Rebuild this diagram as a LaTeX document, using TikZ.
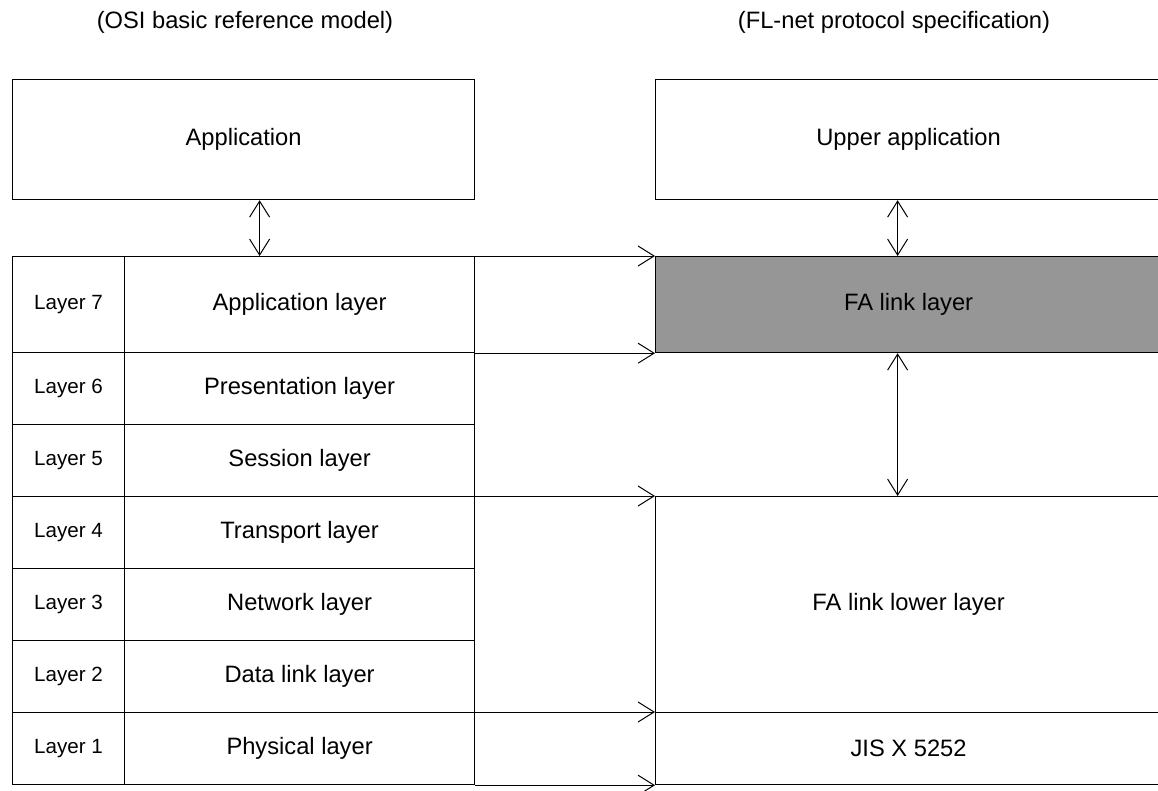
\documentclass[tikz,border=0pt]{standalone}
\usepackage{fontspec}
\setmainfont{Liberation Sans}
\usetikzlibrary{arrows.meta}
\definecolor{shade}{HTML}{969696}
\begin{document}
\begin{tikzpicture}[x=1pt,y=-1pt,
  box/.style={draw=black, line width=1.2pt, rectangle, inner sep=0pt, anchor=north west,
              font=\fontsize{23.7}{28}\selectfont},
  numcell/.style={box, minimum width=112pt, font=\fontsize{20.6}{24}\selectfont},
  namecell/.style={box, minimum width=350pt},
  title/.style={font=\fontsize{23.7}{28}\selectfont, inner sep=0pt},
  link/.style={line width=1pt, -{Straight Barb[length=16pt,width=20pt,line width=1pt]}},
  dbl/.style={line width=1pt, {Straight Barb[length=16pt,width=20pt,line width=1pt]}-{Straight Barb[length=16pt,width=20pt,line width=1pt]}}]
\useasboundingbox (0,0) rectangle (1158,790);
\clip (0,0) rectangle (1158,790);

% column headings
\node[title] (tl) at (245,22) {(OSI basic reference model)};
\node[title] (tr) at (894,22) {(FL-net protocol specification)};

% OSI side
\node[box, minimum width=462pt, minimum height=120pt] (app) at (12,79) {Application};
\node[numcell, minimum height=96pt] (n7) at (12,256) {Layer 7};
\node[namecell, minimum height=96pt] (l7) at (124,256) {Application layer};
\node[numcell, minimum height=72pt] (n6) at (12,352) {Layer 6};
\node[namecell, minimum height=72pt] (l6) at (124,352) {Presentation layer};
\node[numcell, minimum height=72pt] (n5) at (12,424) {Layer 5};
\node[namecell, minimum height=72pt] (l5) at (124,424) {Session layer};
\node[numcell, minimum height=72pt] (n4) at (12,496) {Layer 4};
\node[namecell, minimum height=72pt] (l4) at (124,496) {Transport layer};
\node[numcell, minimum height=72pt] (n3) at (12,568) {Layer 3};
\node[namecell, minimum height=72pt] (l3) at (124,568) {Network layer};
\node[numcell, minimum height=72pt] (n2) at (12,640) {Layer 2};
\node[namecell, minimum height=72pt] (l2) at (124,640) {Data link layer};
\node[numcell, minimum height=72pt] (n1) at (12,712) {Layer 1};
\node[namecell, minimum height=72pt] (l1) at (124,712) {Physical layer};

% FL-net side
\node[box, minimum width=506pt, minimum height=120pt] (upper) at (655,79) {Upper application};
\node[box, fill=shade, minimum width=506pt, minimum height=96pt] (fa) at (655,256) {FA link layer};
\node[box, minimum width=506pt, minimum height=216pt] (lower) at (655,496) {FA link lower layer};
\node[box, minimum width=506pt, minimum height=72pt] (jis) at (655,712) {JIS X 5252};

% interfaces between layers
\draw[dbl] ([xshift=16pt]app.south) -- ([xshift=16pt]app.south |- l7.north);
\draw[dbl] ([xshift=-11pt]upper.south) -- ([xshift=-11pt]upper.south |- fa.north);
\draw[dbl] ([xshift=-11pt]fa.south) -- ([xshift=-11pt]fa.south |- lower.north);

% correspondence between the two models
\draw[link] (l7.north east) -- (fa.north west);
\draw[link] (l7.south east) -- (fa.south west);
\draw[link] (l4.north east) -- (lower.north west);
\draw[link] (l1.north east) -- (jis.north west);
\draw[link] (l1.south east) -- (jis.south west);
\end{tikzpicture}
\end{document}
